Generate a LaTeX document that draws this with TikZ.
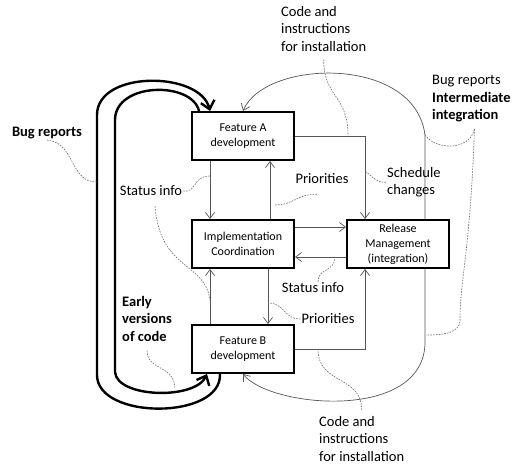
\documentclass[tikz,border=0pt]{standalone}
\usepackage{fontspec}
\setmainfont{Carlito}
\usetikzlibrary{arrows.meta, positioning}
\definecolor{linegray}{RGB}{85,85,85}
\definecolor{notegray}{RGB}{105,105,105}

\begin{document}
\begin{tikzpicture}[x=1pt, y=-1pt,
  box/.style={draw, line width=2pt, minimum width=102pt, minimum height=48pt, align=center, inner sep=1pt, font=\fontsize{12}{15}\selectfont},
  flow/.style={draw=linegray, line width=0.7pt, -{Straight Barb[length=6pt,width=9pt]}},
  backloop/.style={line width=2.4pt, -{Straight Barb[length=8pt,width=14pt]}},
  note/.style={draw=notegray, line width=0.6pt, dash pattern=on 1.6pt off 1.2pt},
  lbl/.style={inner sep=1pt, align=left, font=\fontsize{14.5}{17.5}\selectfont}]
  \useasboundingbox (0,0) rectangle (517,468);
  % Boxes
  \node[box] (fa) at (243,136) {Feature A\\development};
  \node[box] (ic) at (243,244) {Implementation\\Coordination};
  \node[box] (rm) at (398,244) {Release\\Management\\(integration)};
  \node[box] (fb) at (243,349) {Feature B\\development};
  % Thin flows between boxes
  \draw[flow] ([xshift=-33pt]fa.south) -- ([xshift=-33pt]ic.north);
  \draw[flow] ([xshift=27pt]ic.north) -- ([xshift=27pt]fa.south);
  \draw[flow] (fa.east) -| ([xshift=-33pt]rm.north);
  \draw[flow] ([yshift=17pt]ic.east) -- ([yshift=17pt]rm.west);
  \draw[flow] ([yshift=-13pt]rm.west) -- ([yshift=-13pt]ic.east);
  \draw[flow] ([xshift=25pt]ic.south) -- ([xshift=25pt]fb.north);
  \draw[flow] ([xshift=-33pt]fb.north) -- ([xshift=-33pt]ic.south);
  \draw[flow] (fb.east) -| ([xshift=-33pt]rm.south);
  % Release back to the features
  \draw[flow] ([xshift=27pt]rm.north) -- ++(0,-84) .. controls +(-10,-80) and +(22,-52) .. (fa.north);
  \draw[flow] ([xshift=27pt]rm.south) -- ++(0,73) .. controls +(0,80) and +(27,34) .. (fb.south);
  % Thick loops between A and B
  \draw[backloop] ([xshift=-23pt]fb.south) .. controls +(2,46) and +(0,45) .. (97,375) -- (97,115)
    .. controls +(0,-45) and +(-10,-40) .. ([xshift=-33pt]fa.north);
  \draw[backloop] ([xshift=-44pt]fa.north) .. controls +(-7,-30) and +(0,-38) .. (115,120) -- (115,372)
    .. controls +(2,26) and +(-12,26) .. ([xshift=-36pt]fb.south);
  % Labels
  \node[lbl] (bugl) at (47,133) {\textbf{Bug reports}};
  \node[lbl] (st1) at (151,191) {Status info};
  \node[lbl] (pr1) at (322,179) {Priorities};
  \node[lbl, anchor=north west] (sch) at (386,166) {Schedule\\changes};
  \node[lbl, anchor=north west] (codet) at (280,5) {Code and\\instructions\\for installation};
  \node[lbl, anchor=north west] (bugr) at (431,74) {Bug reports\\\textbf{Intermediate}\\\textbf{integration}};
  \node[lbl] (st2) at (313,288) {Status info};
  \node[lbl] (pr2) at (328,319) {Priorities};
  \node[lbl, anchor=north west] (early) at (121,295) {\textbf{Early}\\\textbf{versions}\\\textbf{of code}};
  \node[lbl, anchor=north west] (codeb) at (318,415) {Code and\\instructions\\for installation};
  % Points on the lines that the labels point to
  \coordinate (n1) at (97,182);
  \coordinate (n2) at (210,176);
  \coordinate (n3) at (210,300);
  \coordinate (n4) at (274,205);
  \coordinate (n5) at (366,172);
  \coordinate (n6) at (348,135);
  \coordinate (n7) at (424,133);
  \coordinate (n8) at (426,335);
  \coordinate (n9) at (335,257);
  \coordinate (n10) at (268,303);
  \coordinate (n11) at (175,389);
  \coordinate (n12) at (318,349);
  % Dashed pointers
  \draw[note] (bugl.south) .. controls +(28,2) and +(-27,1) .. (n1);
  \draw[note] (st1.east) .. controls +(14,2) and +(-18,0) .. (n2);
  \draw[note] ([shift={(4,9)}]st1.south) .. controls +(5,64) and +(-5,-38) .. (n3);
  \draw[note] ([shift={(-5,9)}]pr1.south) .. controls +(-22,0) and +(21,0) .. (n4);
  \draw[note] (sch.west) .. controls +(-10,1) and +(4,2) .. (n5);
  \draw[note] ([yshift=-7pt]codet.south) .. controls +(0,38) and +(0,-40) .. (n6);
  \draw[note] ([shift={(3,6)}]bugr.south) .. controls +(-5,23) and +(8,17) .. (n7);
  \draw[note] ([shift={(3,6)}]bugr.south) .. controls +(-4,120) and +(0,-40) .. (460,320)
    .. controls +(0,15) and +(12,0) .. (n8);
  \draw[note] ([xshift=5pt]st2.north) .. controls +(0,-14) and +(0,15) .. (n9);
  \draw[note] (pr2.west) .. controls +(-17,0) and +(17,0) .. (n10);
  \draw[note] ([yshift=-8pt]early.south) .. controls +(0,20) and +(0,-24) .. (n11);
  \draw[note] ([yshift=5pt]codeb.north) .. controls +(0,-35) and +(0,36) .. (n12);
\end{tikzpicture}
\end{document}
